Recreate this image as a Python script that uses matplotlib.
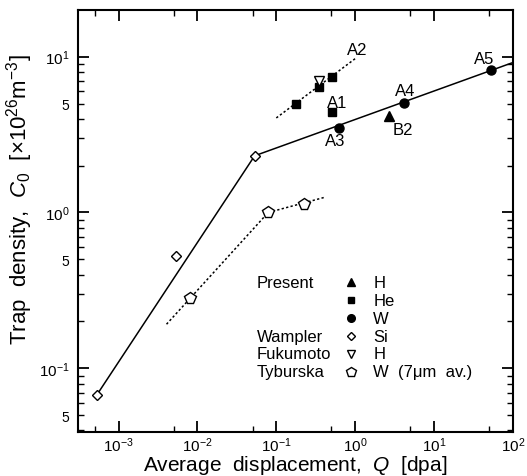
import matplotlib
matplotlib.use('Agg')
import matplotlib.pyplot as plt
import matplotlib.ticker as mticker
import numpy as np

plt.rcParams['font.family'] = ['Liberation Sans', 'DejaVu Sans']
plt.rcParams['mathtext.fontset'] = 'custom'
plt.rcParams['mathtext.rm'] = 'Liberation Sans'
plt.rcParams['mathtext.it'] = 'Liberation Sans:italic'
plt.rcParams['mathtext.bf'] = 'Liberation Sans:bold'
plt.rcParams['axes.unicode_minus'] = False

# present work
h_x = [2.72]
h_y = [4.16]
he_x = [0.176, 0.353, 0.51, 0.51]
he_y = [5.0, 6.42, 7.36, 4.38]
w_x = [0.62, 4.12, 53.6]
w_y = [3.49, 5.04, 8.26]
he_fit_x = [0.1, 1.03]
he_fit_y = [4.04, 9.8]

# Wampler (Si)
si_x = [5.27e-4, 5.27e-3, 0.0531]
si_y = [0.0674, 0.525, 2.31]
si_fit_x = [5.27e-4, 0.0531, 100]
si_fit_y = [0.0674, 2.31, 9.15]

# Fukumoto (H)
fuk_x = [0.353]
fuk_y = [6.95]

# Tyburska (W, 7 um av.)
tyb_x = [8.0e-3, 0.079, 0.226]
tyb_y = [0.281, 1.0, 1.135]
tyb_fit_x = [4.05e-3, 0.079, 0.408]
tyb_fit_y = [0.192, 1.0, 1.25]

# point labels: (text, x, y, dx px, dy px)
point_labels = [
    ('A1', he_x[3], he_y[3], 5, 10),
    ('A2', he_fit_x[1], he_fit_y[1], 1, 8),
    ('A3', w_x[0], w_y[0], -4, -13),
    ('A4', w_x[1], w_y[1], 1.5, 12),
    ('A5', w_x[2], w_y[2], -7.6, 10.6),
    ('B2', h_x[0], h_y[0], 13, -13.3),
]

legend_groups = ['Present', '', '', 'Wampler', 'Fukumoto', 'Tyburska']
legend_species = ['H', 'He', 'W', 'Si', 'H', 'W  (7\u03bcm  av.)']
legend_markers = ['^', 's', 'o', 'D', 'v', 'p']
legend_filled = [True, True, True, False, False, False]
legend_sizes = [6, 5, 5.5, 4.5, 6, 7]

fig = plt.figure(figsize=(5.27, 4.77), dpi=100)
ax = fig.add_axes([0.148, 0.093, 0.825, 0.884])

lw = 1.1
ax.plot(si_fit_x, si_fit_y, 'k-', lw=lw)
ax.plot(he_fit_x, he_fit_y, 'k', ls=(0, (1.5, 1.5)), lw=lw)
ax.plot(tyb_fit_x, tyb_fit_y, 'k', ls=(0, (1.5, 1.5)), lw=lw)

ax.plot(w_x, w_y, 'ko', ms=6.5, ls='none')
ax.plot(he_x, he_y, 'ks', ms=5.5, ls='none')
ax.plot(h_x, h_y, 'k^', ms=7, ls='none')
ax.plot(si_x, si_y, 'D', ms=5.5, mfc='white', mec='k', mew=1.0, ls='none')
ax.plot(fuk_x, fuk_y, 'v', ms=7, mfc='white', mec='k', mew=1.0, ls='none')
ax.plot(tyb_x, tyb_y, 'p', ms=8.5, mfc='white', mec='k', mew=1.0, ls='none')

for txt, x, y, dx, dy in point_labels:
    ax.annotate(txt, (x, y), xytext=(dx * 0.72, dy * 0.72), textcoords='offset points',
                ha='center', va='center', fontsize=12)

# legend drawn as a small table
row0 = 0.354
step = 0.0424
for i in range(len(legend_species)):
    yy = row0 - i * step
    ax.text(0.411, yy, legend_groups[i], transform=ax.transAxes, fontsize=12,
            ha='left', va='center')
    ax.plot([0.628], [yy], legend_markers[i], transform=ax.transAxes,
            ms=legend_sizes[i], mec='k', mew=1.0,
            mfc='k' if legend_filled[i] else 'white', clip_on=False)
    ax.text(0.679, yy, legend_species[i], transform=ax.transAxes, fontsize=12,
            ha='left', va='center')

ax.set_xscale('log')
ax.set_yscale('log')
ax.set_xlim(3.05e-4, 100)
ax.set_ylim(0.0393, 19.9)

ax.xaxis.set_major_locator(mticker.LogLocator(base=10, numticks=20))
ax.xaxis.set_minor_locator(mticker.LogLocator(base=10, subs=[5], numticks=20))
ax.xaxis.set_minor_formatter(mticker.NullFormatter())
ax.yaxis.set_major_locator(mticker.LogLocator(base=10, numticks=20))
ax.yaxis.set_minor_locator(mticker.LogLocator(base=10, subs=np.arange(2, 10), numticks=20))


def minor_fmt(v, pos):
    m = v / 10 ** np.floor(np.log10(v) + 1e-9)
    return '5' if abs(m - 5) < 1e-6 else ''


ax.yaxis.set_minor_formatter(mticker.FuncFormatter(minor_fmt))

ax.tick_params(which='both', direction='in', top=True, right=True, labelsize=11)
ax.tick_params(axis='y', which='minor', labelsize=10)
ax.tick_params(axis='y', which='both', pad=6)
ax.tick_params(axis='x', which='both', pad=3)
ax.tick_params(which='major', length=8, width=1.3)
ax.tick_params(which='minor', length=4.5, width=1.0)
for s in ax.spines.values():
    s.set_linewidth(1.5)

ax.set_xlabel('Average  displacement,  $Q$  [dpa]', fontsize=15, labelpad=-1)
ax.set_ylabel('Trap  density,  $C_0$  [\u00d710$^{26}$m$^{-3}$]', fontsize=16)
ax.yaxis.set_label_coords(-0.098, 0.552)

fig.savefig('out.png', dpi=100)
